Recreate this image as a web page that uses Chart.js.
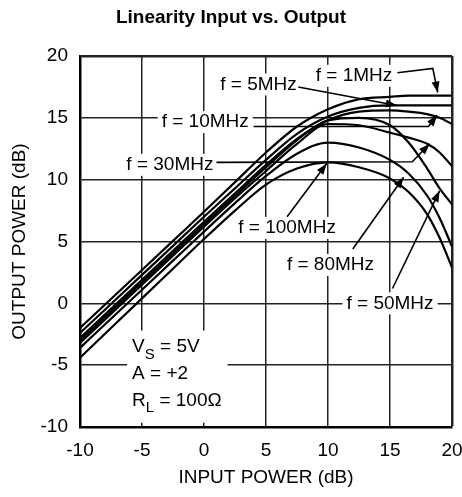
<!DOCTYPE html>
<html>
<head>
<meta charset="utf-8">
<script src="https://cdn.jsdelivr.net/npm/chart.js@4/dist/chart.umd.min.js"></script>
<style>
  body { margin: 0; background: #fff; }
  canvas { display: block; }
</style>
</head>
<body>
<canvas id="linChart" width="462" height="497"></canvas>
<script>
// input power (dB) sample points shared by all curves
const inputPower = [-10, -7.5, -5, -2.5, 0, 2.5, 5, 7.5, 10, 12.5, 15, 16.5, 18, 19, 20];

// output power (dB), one list per frequency
const out1MHz   = [-2.0, 0.35, 2.7, 5.05, 7.4, 9.8, 12.2, 14.3, 15.7, 16.5, 16.7, 16.8, 16.8, 16.8, 16.8];
const out5MHz   = [-2.4, -0.05, 2.3, 4.65, 7.0, 9.3, 11.6, 13.7, 15.1, 15.8, 16.0, 16.0, 16.0, 16.0, 16.0];
const out10MHz  = [-2.8, -0.45, 1.9, 4.25, 6.6, 8.9, 11.2, 13.3, 14.8, 15.5, 15.6, 15.5, 15.3, 15.0, 14.5];
const out30MHz  = [-3.2, -0.85, 1.5, 3.85, 6.2, 8.5, 10.7, 12.9, 14.5, 14.4, 13.8, 13.4, 12.9, 12.2, 11.1];
const out50MHz  = [-3.0, -0.65, 1.7, 4.05, 6.4, 8.7, 11.0, 13.2, 14.8, 15.0, 14.4, 13.0, 10.9, 9.3, 8.0];
const out80MHz  = [-3.6, -1.25, 1.1, 3.45, 5.8, 8.1, 10.3, 12.1, 13.0, 12.6, 11.6, 10.5, 8.7, 6.9, 4.6];
const out100MHz = [-4.4, -2.0, 0.4, 2.8, 5.2, 7.5, 9.6, 10.9, 11.4, 11.0, 10.1, 9.0, 7.2, 5.3, 2.9];

const series = [out1MHz, out5MHz, out10MHz, out30MHz, out50MHz, out80MHz, out100MHz];
const seriesNames = ["1MHz", "5MHz", "10MHz", "30MHz", "50MHz", "80MHz", "100MHz"];

const xTicks = [-10, -5, 0, 5, 10, 15, 20];
const yTicks = [-10, -5, 0, 5, 10, 15, 20];

// callout labels: text centre and leader path, in data units
const callouts = [
  { text: "f = 1MHz",   at: [12.1, 18.4], path: [[15.6, 18.65], [18.45, 19.0], [18.85, 17.05]] },
  { text: "f = 5MHz",   at: [4.4, 17.7],  path: [[7.6, 17.5], [15.55, 16.0]] },
  { text: "f = 10MHz",  at: [0.1, 14.65], path: [[4.0, 14.3], [18.1, 14.3], [18.8, 15.2]] },
  { text: "f = 30MHz",  at: [-2.75, 11.2], path: [[1.0, 11.4], [16.8, 11.45], [18.2, 12.9]] },
  { text: "f = 100MHz", at: [6.7, 6.1],   path: [[6.7, 7.0], [9.9, 11.3]] },
  { text: "f = 80MHz",  at: [10.2, 3.1],  path: [[12.0, 4.4], [16.1, 10.2]] },
  { text: "f = 50MHz",  at: [15.0, 0.0],  path: [[15.2, 1.2], [19.0, 9.1]] }
];

const FONT = '"Liberation Sans", Arial, Helvetica, sans-serif';

function arrowHead(ctx, x0, y0, x1, y1) {
  const a = Math.atan2(y1 - y0, x1 - x0);
  const len = 11, half = 4;
  ctx.beginPath();
  ctx.moveTo(x1, y1);
  ctx.lineTo(x1 - len * Math.cos(a) + half * Math.sin(a), y1 - len * Math.sin(a) - half * Math.cos(a));
  ctx.lineTo(x1 - len * Math.cos(a) - half * Math.sin(a), y1 - len * Math.sin(a) + half * Math.cos(a));
  ctx.closePath();
  ctx.fill();
}

const annotate = {
  id: "annotate",
  afterDatasetsDraw(chart) {
    const { ctx, scales } = chart;
    const px = (v) => scales.x.getPixelForValue(v);
    const py = (v) => scales.y.getPixelForValue(v);
    ctx.save();
    ctx.font = "19px " + FONT;
    ctx.textBaseline = "middle";
    ctx.textAlign = "center";
    ctx.lineWidth = 1.6;
    ctx.strokeStyle = "#000";

    callouts.forEach((c) => {
      const w = ctx.measureText(c.text).width;
      const cx = px(c.at[0]), cy = py(c.at[1]);
      ctx.fillStyle = "#fff";
      ctx.fillRect(cx - w / 2 - 4, cy - 11, w + 8, 22);
      ctx.fillStyle = "#000";
      ctx.fillText(c.text, cx, cy);
      ctx.beginPath();
      c.path.forEach((p, i) => {
        if (i === 0) ctx.moveTo(px(p[0]), py(p[1]));
        else ctx.lineTo(px(p[0]), py(p[1]));
      });
      ctx.stroke();
      const n = c.path.length;
      arrowHead(ctx, px(c.path[n - 2][0]), py(c.path[n - 2][1]), px(c.path[n - 1][0]), py(c.path[n - 1][1]));
    });

    // test conditions box
    ctx.fillStyle = "#fff";
    ctx.fillRect(px(-6.2), py(-2.2), px(1.9) - px(-6.2), py(-9.65) - py(-2.2));
    ctx.fillStyle = "#000";
    ctx.textAlign = "left";
    const left = px(-5.8);
    const sub = (main, s, rest, yv) => {
      const yy = py(yv);
      ctx.font = "19px " + FONT;
      ctx.fillText(main, left, yy);
      let xx = left + ctx.measureText(main).width;
      ctx.font = "15px " + FONT;
      ctx.fillText(s, xx, yy + 8);
      xx += ctx.measureText(s).width;
      ctx.font = "19px " + FONT;
      ctx.fillText(rest, xx, yy);
    };
    sub("V", "S", " = 5V", -3.55);
    ctx.font = "19px " + FONT;
    ctx.fillText("A = +2", left, py(-5.66));
    sub("R", "L", " = 100\u03A9", -7.84);
    ctx.restore();
  }
};

const datasets = series.map((vals, i) => ({
  label: seriesNames[i],
  data: inputPower.map((x, j) => ({ x: x, y: vals[j] })),
  showLine: true,
  borderColor: "#000",
  borderWidth: 2.2,
  pointRadius: 0,
  cubicInterpolationMode: "monotone",
  fill: false
}));

const edgeWidth = (ctx) => (ctx.tick && ctx.tick.value === 20 ? 2.5 : 1.5);

new Chart(document.getElementById("linChart"), {
  type: "scatter",
  data: { datasets: datasets },
  options: {
    responsive: false,
    animation: false,
    devicePixelRatio: 1,
    layout: { padding: { top: 0, right: 0, left: 0, bottom: 0 } },
    plugins: {
      legend: { display: false },
      tooltip: { enabled: false },
      title: {
        display: true,
        text: "Linearity Input vs. Output",
        color: "#000",
        font: { family: FONT, size: 19, weight: "bold" },
        padding: { top: 6, bottom: 27.2 }
      }
    },
    scales: {
      x: {
        type: "linear",
        min: -10,
        max: 20,
        afterBuildTicks: (s) => { s.ticks = xTicks.map((v) => ({ value: v })); },
        afterFit: (s) => { s.height = 70; s.paddingRight = 10; s.paddingLeft = 0; },
        ticks: { color: "#000", padding: 12, font: { family: FONT, size: 19 } },
        grid: { color: "#222", lineWidth: edgeWidth, drawTicks: false },
        border: { color: "#000", width: 2.5 },
        title: {
          display: true,
          text: "INPUT POWER (dB)",
          color: "#000",
          font: { family: FONT, size: 19 },
          padding: { top: 0, bottom: 7.6 }
        }
      },
      y: {
        type: "linear",
        min: -10,
        max: 20,
        afterBuildTicks: (s) => { s.ticks = yTicks.map((v) => ({ value: v })); },
        afterFit: (s) => { s.width = 80; },
        ticks: { color: "#000", padding: 12, font: { family: FONT, size: 19 } },
        grid: { color: "#222", lineWidth: edgeWidth, drawTicks: false },
        border: { color: "#000", width: 2.5 },
        title: {
          display: true,
          text: "OUTPUT POWER (dB)",
          color: "#000",
          font: { family: FONT, size: 19 },
          padding: { top: 8.6, bottom: 0 }
        }
      }
    }
  },
  plugins: [annotate]
});
</script>
</body>
</html>
